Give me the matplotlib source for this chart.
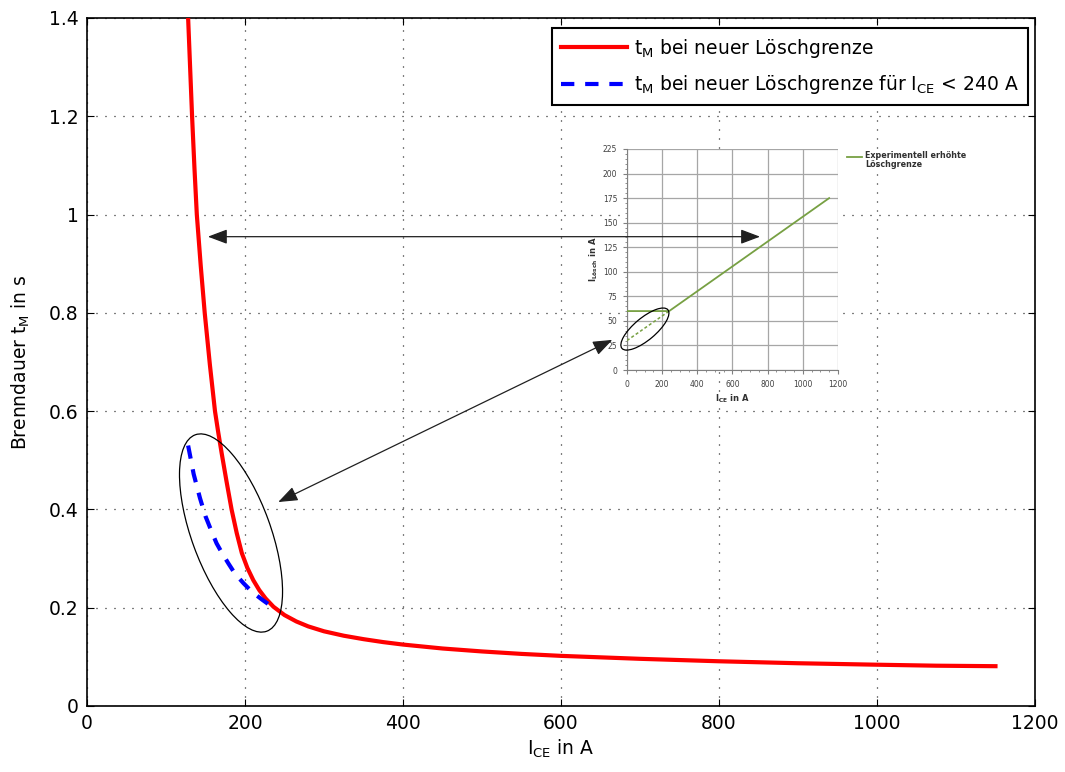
import matplotlib
matplotlib.use("Agg")
import matplotlib.pyplot as plt
from matplotlib.lines import Line2D
from matplotlib.patches import Ellipse, FancyArrowPatch
from matplotlib.transforms import ScaledTranslation
from matplotlib.ticker import MultipleLocator

plt.rcParams['font.family'] = ['DejaVu Sans']
plt.rcParams['mathtext.default'] = 'regular'

# Burn duration t_M over collector-emitter current, new extinction limit
i_ce_red = [128, 130.5, 133, 136, 139, 144, 149, 155.5, 162, 166, 170.5, 176.5,
            183, 189.5, 196, 203, 210.5, 218, 226, 236, 250, 265, 280, 300,
            325, 350, 375, 400, 450, 500, 550, 600, 700, 800, 900, 1000, 1075, 1150]
t_m_red = [1.40, 1.30, 1.20, 1.095, 1.00, 0.895, 0.80, 0.695, 0.60, 0.558, 0.514, 0.458,
           0.40, 0.352, 0.311, 0.281, 0.256, 0.236, 0.219, 0.202, 0.185, 0.172, 0.162, 0.152,
           0.143, 0.136, 0.130, 0.125, 0.117, 0.111, 0.106, 0.102, 0.096, 0.091, 0.087,
           0.084, 0.082, 0.081]

# Same quantity with the extended limit below 240 A
i_ce_blue = [128, 135, 143, 150, 158, 164, 171, 179, 187, 198, 209, 222, 235]
t_m_blue = [0.53, 0.472, 0.423, 0.386, 0.354, 0.331, 0.311, 0.290, 0.270, 0.250,
            0.232, 0.216, 0.201]

# Experimentally determined extinction limit (small chart)
i_ce_limit = [0, 240, 1150]
i_loesch_limit = [60, 60, 175]
i_ce_limit_low = [0, 240]
i_loesch_limit_low = [30, 60]

x_ticks = [0, 200, 400, 600, 800, 1000, 1200]
y_ticks = [0, 0.2, 0.4, 0.6, 0.8, 1.0, 1.2, 1.4]
y_tick_labels = ['0', '0.2', '0.4', '0.6', '0.8', '1', '1.2', '1.4']
inset_x_ticks = [0, 200, 400, 600, 800, 1000, 1200]
inset_y_ticks = [0, 25, 50, 75, 100, 125, 150, 175, 200, 225]

FS = 13.5

fig = plt.figure(figsize=(10.65, 7.72), dpi=100)
ax = fig.add_axes([0.0817, 0.0855, 0.8901, 0.8912])

ax.plot(i_ce_red, t_m_red, color='#ff0000', lw=3.0, solid_joinstyle='round',
        label=r'$t_M$ bei neuer Löschgrenze', zorder=3)
ax.plot(i_ce_blue, t_m_blue, color='#0000ff', lw=3.0, linestyle=(0, (3.2, 2.6)),
        label=r'$t_M$ bei neuer Löschgrenze für $I_{CE}$ < 240 A', zorder=4)

ax.set_xlim(0, 1200)
ax.set_ylim(0, 1.4)
ax.set_xticks(x_ticks)
ax.set_xticklabels([str(v) for v in x_ticks])
ax.set_yticks(y_ticks)
ax.set_yticklabels(y_tick_labels)
ax.tick_params(direction='in', length=5, width=0.8, labelsize=FS, pad=6,
               top=True, right=True)
ax.grid(True, color='black', linestyle=(0, (0.8, 6.4)), lw=0.9)
for s in ax.spines.values():
    s.set_linewidth(1.2)

ax.set_xlabel(r'$I_{CE}$ in A', fontsize=FS, labelpad=3)
ax.set_ylabel(r'Brenndauer $t_M$ in s', fontsize=FS, labelpad=12)

leg = ax.legend(loc='upper right', bbox_to_anchor=(0.993, 0.986), borderaxespad=0,
                fontsize=FS, fancybox=False, framealpha=1, edgecolor='black',
                handlelength=3.5, borderpad=0.5, labelspacing=0.7, handletextpad=0.4)
leg.get_frame().set_linewidth(1.5)

# Ellipse marking the low-current branch (size given in inches)
tr = fig.dpi_scale_trans + ScaledTranslation(182.3, 0.352, ax.transData)
ax.add_patch(Ellipse((0, 0), 2.09, 0.79, angle=-70, transform=tr,
                     fill=False, ec='black', lw=0.9, zorder=5))

# Small chart of the extinction limit
axi = fig.add_axes([0.5887, 0.5207, 0.1981, 0.2863])
axi.plot(i_ce_limit, i_loesch_limit, color='#77a043', lw=1.3, zorder=3)
axi.plot(i_ce_limit_low, i_loesch_limit_low, color='#77a043', lw=1.1,
         linestyle=(0, (2, 1.5)), zorder=3)
axi.set_xlim(0, 1200)
axi.set_ylim(0, 225)
axi.set_xticks(inset_x_ticks)
axi.set_yticks(inset_y_ticks)
axi.xaxis.set_minor_locator(MultipleLocator(50))
axi.yaxis.set_minor_locator(MultipleLocator(5))
axi.tick_params(which='major', labelsize=5.5, length=3, color='#808080',
                labelcolor='#404040', pad=4)
axi.tick_params(which='minor', length=1.5, color='#808080')
axi.grid(True, which='major', color='#a6a6a6', lw=0.9)
axi.set_axisbelow(True)
axi.spines['top'].set_visible(False)
axi.spines['right'].set_visible(False)
axi.spines['left'].set_color('#808080')
axi.spines['bottom'].set_color('#808080')
axi.set_xlabel(r'$I_{CE}$ in A', fontsize=6, color='#303030', labelpad=3,
               fontweight='bold')
axi.set_ylabel(r'$I_{Lösch}$ in A', fontsize=6, color='#303030', labelpad=2,
               fontweight='bold')
tri = fig.dpi_scale_trans + ScaledTranslation(102, 41.7, axi.transData)
axi.add_patch(Ellipse((0, 0), 0.60, 0.22, angle=40, transform=tri,
                      fill=False, ec='black', lw=0.9, zorder=5, clip_on=False))

fig.add_artist(Line2D([0.7955, 0.8095], [0.7966, 0.7966], color='#77a043', lw=1.3))
fig.text(0.8125, 0.804, 'Experimentell erhöhte\nLöschgrenze', fontsize=5.8,
         color='#303030', va='top', ha='left', fontweight='bold', linespacing=1.0)

# Double-headed arrows linking the main chart and the small chart
for a, b in [((153, 0.955), (852, 0.955)), ((242, 0.415), (665, 0.745))]:
    fig.add_artist(FancyArrowPatch(a, b, transform=ax.transData,
                                   arrowstyle='<|-|>,head_length=0.85,head_width=0.32',
                                   mutation_scale=14, color='#202020', lw=0.9,
                                   shrinkA=0, shrinkB=0))

fig.savefig('out.png', dpi=100)
